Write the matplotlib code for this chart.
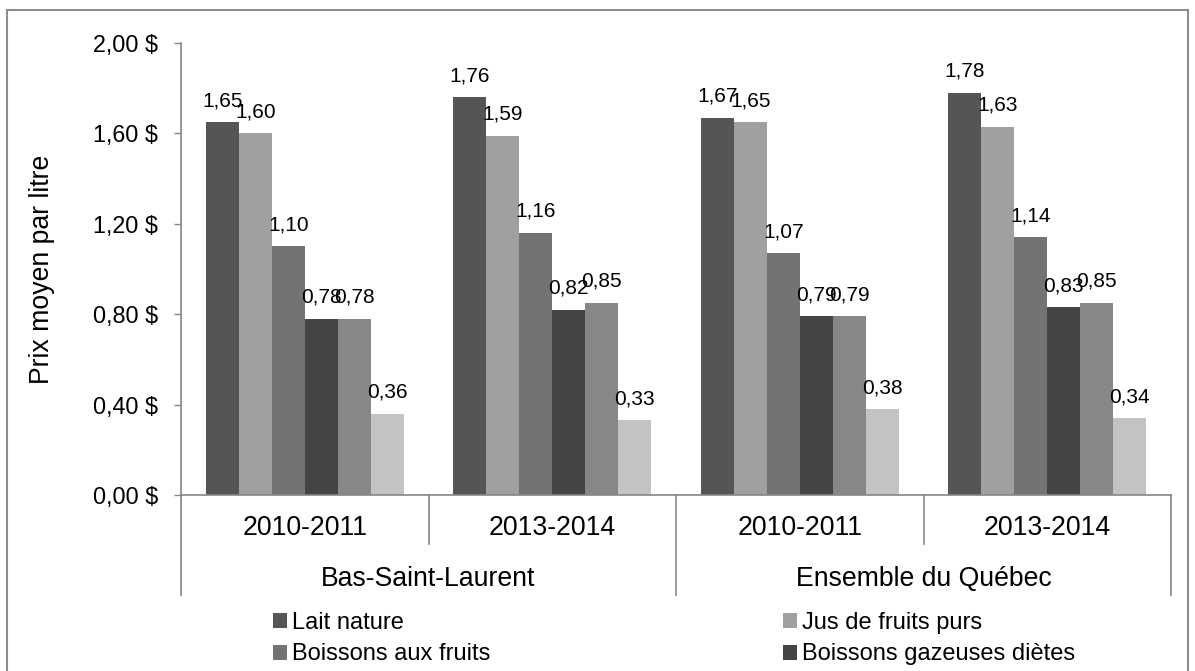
import matplotlib
matplotlib.use("Agg")
import matplotlib.pyplot as plt
from matplotlib.patches import Rectangle, Patch
from matplotlib.lines import Line2D
import numpy as np

plt.rcParams['font.family'] = ['Liberation Sans', 'DejaVu Sans']

# ---------------- data ----------------
periods = ["2010-2011", "2013-2014", "2010-2011", "2013-2014"]
regions = ["Bas-Saint-Laurent", "Ensemble du Québec"]
series_names = ["Lait nature", "Jus de fruits purs", "Boissons aux fruits",
                "Boissons gazeuses diètes", "Boissons gazeuses régulières",
                "Eau embouteillée"]
lait_nature = [1.65, 1.76, 1.67, 1.78]
jus_fruits = [1.60, 1.59, 1.65, 1.63]
boissons_fruits = [1.10, 1.16, 1.07, 1.14]
gazeuses_dietes = [0.78, 0.82, 0.79, 0.83]
gazeuses_reg = [0.78, 0.85, 0.79, 0.85]
eau = [0.36, 0.33, 0.38, 0.34]
yticks = [0.0, 0.4, 0.8, 1.2, 1.6, 2.0]
ytick_labels = ["0,00 $", "0,40 $", "0,80 $", "1,20 $", "1,60 $", "2,00 $"]
legend_order = [0, 2, 1, 3]  # row-major display of the visible entries

values = [lait_nature, jus_fruits, boissons_fruits, gazeuses_dietes, gazeuses_reg, eau]
colors = ["#555555", "#a0a0a0", "#737373", "#444444", "#878787", "#c3c3c3"]

W, H = 1195, 671
fig = plt.figure(figsize=(W / 100, H / 100), dpi=100)
ax = fig.add_axes([181 / W, 1 - 495 / H, 990 / W, 452 / H])

n = len(values)
bw = 0.8 / n
x = np.arange(len(periods)) + 0.5
for i, (vals, c) in enumerate(zip(values, colors)):
    pos = x - 0.4 + bw * (i + 0.5)
    ax.bar(pos, vals, width=bw, color=c, edgecolor='none', label=series_names[i])
    for xx, v in zip(pos, vals):
        ax.annotate(f"{v:.2f}".replace(".", ","), (xx, v), xytext=(0, 11.5),
                    textcoords='offset points', ha='center', va='baseline',
                    fontsize=15, color='black')

ax.set_xlim(0, len(periods))
ax.set_ylim(0, 2.0)
ax.set_yticks(yticks)
ax.set_yticklabels(ytick_labels, fontsize=16.8)
ax.tick_params(axis='y', direction='out', length=5, width=1, color='#868686', pad=11.5)
ax.set_xticks([])

for s in ['top', 'right']:
    ax.spines[s].set_visible(False)
for s in ['left', 'bottom']:
    ax.spines[s].set_color('#868686')
    ax.spines[s].set_linewidth(1.2)

ax.set_ylabel("Prix moyen par litre", fontsize=19.2)
ax.yaxis.label.set_va('center')
ax.yaxis.set_label_coords((42 - 181) / 990, 0.5)

# category separators
trans = ax.get_xaxis_transform()
short_y = (495 - 544) / 452
long_y = (495 - 595) / 452
for k in range(len(periods) + 1):
    yb = long_y if k % 2 == 0 else short_y
    ax.add_line(Line2D([k, k], [0, yb], transform=trans, color='#868686',
                       lw=1.2, clip_on=False))

for xx, lab in zip(x, periods):
    ax.text(xx, (495 - 528) / 452, lab, transform=trans, ha='center', va='center',
            fontsize=19.2)
for j, reg in enumerate(regions):
    ax.text(2 * j + 1, (495 - 579) / 452, reg, transform=trans, ha='center',
            va='center', fontsize=19.2)

# legend (only the visible entries, row-major)
handles = [Patch(facecolor=colors[i], edgecolor='none') for i in legend_order]
labels = [series_names[i] for i in legend_order]
fig.legend(handles, labels, ncol=2, loc='upper left',
           bbox_to_anchor=(273 / W, 1 - 612 / H), frameon=False, fontsize=17,
           handlelength=0.6, handleheight=0.6, handletextpad=0.2,
           columnspacing=12.4, labelspacing=0.4, borderpad=0, borderaxespad=0)

# outer frame
fig.add_artist(Rectangle((7 / W, -0.2), (1188 - 7) / W, 1.2 - 10 / H,
                         transform=fig.transFigure, fill=False,
                         edgecolor='#8c8c8c', lw=1.5))

fig.savefig("out.png", dpi=100)
